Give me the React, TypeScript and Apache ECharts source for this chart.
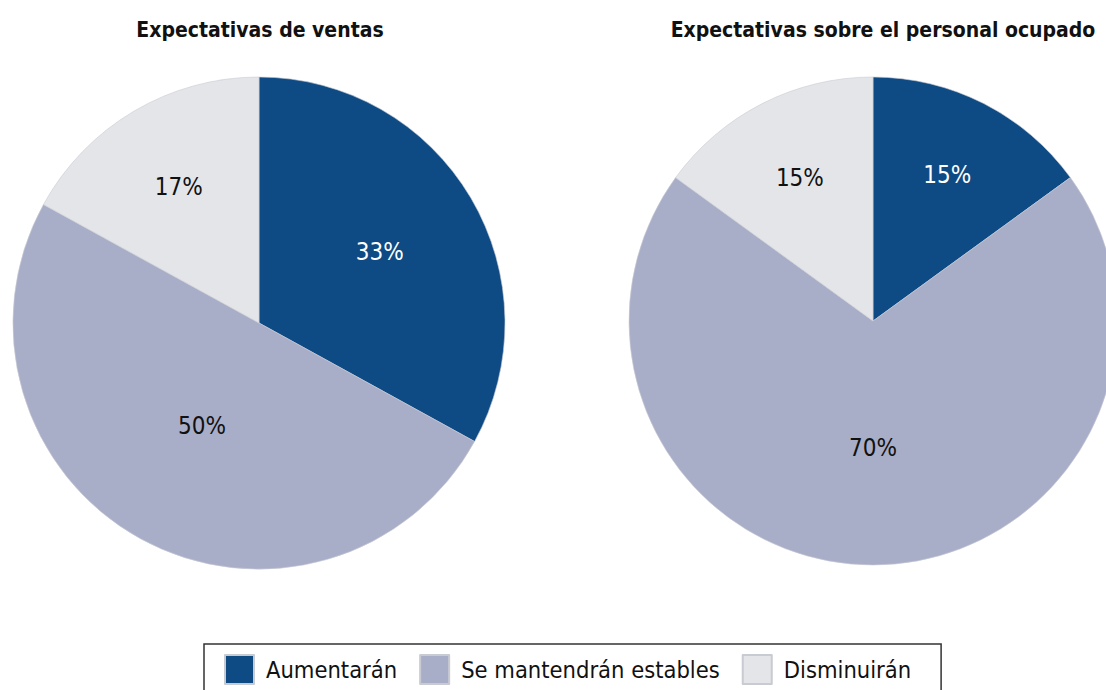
import React, { useEffect, useRef } from "react";
import * as echarts from "echarts";

const categories = ["Aumentarán", "Se mantendrán estables", "Disminuirán"];
const ventas = [33, 50, 17];
const personal = [15, 70, 15];
const titles = ["Expectativas de ventas", "Expectativas sobre el personal ocupado"];
const colors = ["#0E4A83", "#A9AEC8", "#E4E5E8"];
const labelColors = ["#ffffff", "#111111", "#111111"];
// radial position of each label as fraction of radius
const labelFrac1 = [0.57, 0.48, 0.64];
const labelFrac2 = [0.67, 0.52, 0.66];

const FONT = "'Liberation Sans Narrow', 'DejaVu Sans Condensed', 'Noto Sans', sans-serif";

export default function App() {
  const ref = useRef<HTMLDivElement>(null);
  useEffect(() => {
    document.body.style.margin = "0";
    const chart = echarts.init(ref.current!, null, { renderer: "svg" });
    const pies = [
      { values: ventas, cx: 259, cy: 323, r: 246, frac: labelFrac1 },
      { values: personal, cx: 873, cy: 321, r: 244, frac: labelFrac2 },
    ];
    chart.setOption({
      animation: false,
      backgroundColor: "#ffffff",
      title: [
        { text: titles[0], left: 255, top: 14, textAlign: "center" },
        { text: titles[1], left: 878, top: 14, textAlign: "center" },
      ].map((t) => ({
        ...t,
        textStyle: { fontFamily: FONT, fontWeight: "bold", fontSize: 21, color: "#111111" },
      })),
      legend: {
        data: categories,
        left: 204,
        top: 644,
        orient: "horizontal",
        itemWidth: 29,
        itemHeight: 29,
        itemGap: 22,
        padding: [10, 30, 12, 20],
        borderColor: "#333333",
        borderWidth: 1.5,
        icon: "rect",
        textStyle: { fontFamily: FONT, fontSize: 23.5, color: "#111111", padding: [5, 0, 0, 7] },
        selectedMode: false,
      },
      series: pies.map((p) => ({
        type: "pie",
        center: [p.cx, p.cy],
        radius: [0, p.r],
        startAngle: 90,
        clockwise: true,
        silent: true,
        label: {
          show: true,
          position: "inside",
          formatter: "{c}%",
          fontFamily: FONT,
          fontSize: 24,
        },
        labelLine: { show: false },
        labelLayout: (params: any) => {
          const lr = params.labelRect;
          const lx = lr.x + lr.width / 2;
          const ly = lr.y + lr.height / 2;
          const dx = lx - p.cx;
          const dy = ly - p.cy;
          const d = Math.sqrt(dx * dx + dy * dy) || 1;
          const f = p.frac[params.dataIndex];
          return {
            x: p.cx + (dx / d) * f * p.r,
            y: p.cy + (dy / d) * f * p.r,
            align: "center",
            verticalAlign: "middle",
          };
        },
        itemStyle: { borderColor: "#c9cbd3", borderWidth: 0.6 },
        data: categories.map((name, i) => ({
          name,
          value: p.values[i],
          itemStyle: { color: colors[i] },
          label: { color: labelColors[i] },
        })),
      })),
    });
    return () => chart.dispose();
  }, []);
  return <div ref={ref} style={{ width: 1106, height: 690 }} />;
}
